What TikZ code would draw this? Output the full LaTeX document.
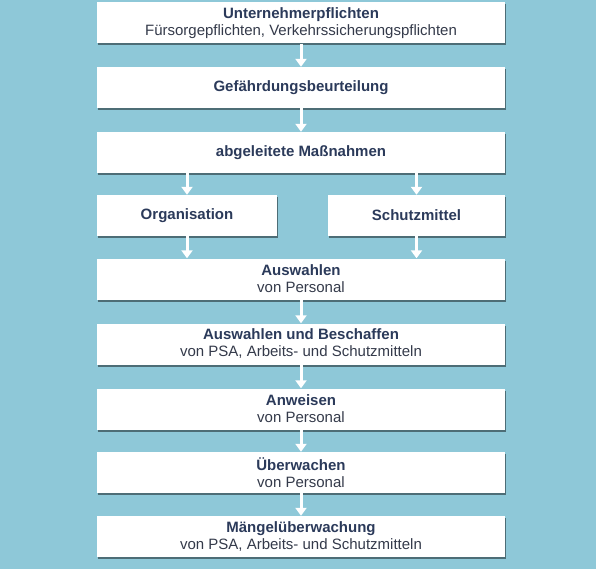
\documentclass[tikz,border=0pt]{standalone}
\usepackage{fontspec}
\setmainfont{Liberation Sans}
\usetikzlibrary{arrows.meta, shadows}
\definecolor{hgblau}{RGB}{142,200,216}
\definecolor{textblau}{RGB}{43,58,90}
\definecolor{textgrau}{RGB}{52,58,74}
\tikzset{>={Triangle[width=11bp,length=8bp]}}
\tikzset{kasten/.style={fill=white, inner sep=0pt, align=center,
    minimum height=41bp, minimum width=408bp, text=textgrau,
    font=\fontsize{15bp}{17bp}\selectfont,
    drop shadow={shadow xshift=1bp, shadow yshift=-2bp, fill=black, opacity=0.45}},
  pfeil/.style={->, white, line width=3bp}}
\newcommand{\titel}[1]{{\bfseries\color{textblau}#1}}

\begin{document}
\begin{tikzpicture}[x=1bp, y=-1bp]
    \fill[hgblau] (0,0) rectangle (596,569);
    \node[kasten] (pflicht) at (301,23) {\titel{Unternehmerpflichten}\\Fürsorgepflichten, Verkehrssicherungspflichten};
    \node[kasten] (gefahr) at (301,87.5) {\titel{Gefährdungsbeurteilung}};
    \node[kasten] (massn) at (301,152.5) {\titel{abgeleitete Maßnahmen}};
    \node[kasten, minimum width=180bp] (orga) at (187,215.5) {\titel{Organisation}};
    \node[kasten, minimum width=177bp] (schutz) at (416.5,215.5) {\titel{Schutzmittel}};
    \node[kasten] (auswahl) at (301,279) {\titel{Auswahlen}\\von Personal};
    \node[kasten] (beschaff) at (301,344) {\titel{Auswahlen und Beschaffen}\\von PSA, Arbeits- und Schutzmitteln};
    \node[kasten] (anweis) at (301,409) {\titel{Anweisen}\\von Personal};
    \node[kasten] (ueberw) at (301,472.5) {\titel{Überwachen}\\von Personal};
    \node[kasten] (maengel) at (301,536.5) {\titel{Mängelüberwachung}\\von PSA, Arbeits- und Schutzmitteln};
    \draw[pfeil] (pflicht) -- (gefahr);
    \draw[pfeil] (gefahr) -- (massn);
    \draw[pfeil] (orga.north |- massn.south) -- (orga.north);
    \draw[pfeil] (schutz.north |- massn.south) -- (schutz.north);
    \draw[pfeil] (orga.south) -- (orga.south |- auswahl.north);
    \draw[pfeil] (schutz.south) -- (schutz.south |- auswahl.north);
    \draw[pfeil] (auswahl) -- (beschaff);
    \draw[pfeil] (beschaff) -- (anweis);
    \draw[pfeil] (anweis) -- (ueberw);
    \draw[pfeil] (ueberw) -- (maengel);
\end{tikzpicture}
\end{document}
